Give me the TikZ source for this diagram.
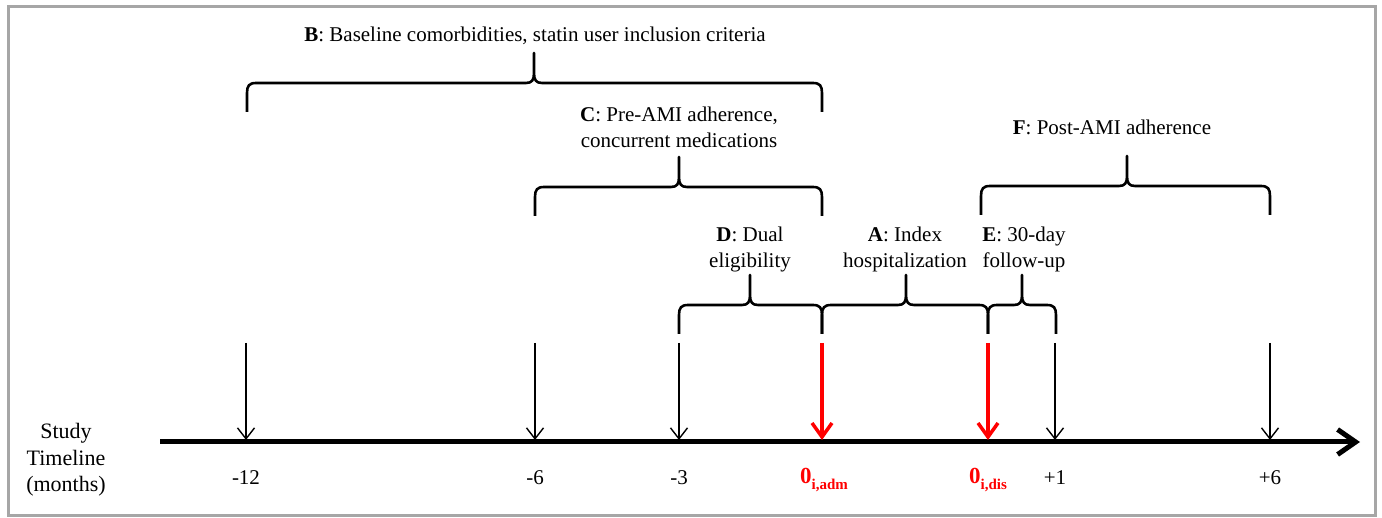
\documentclass[tikz,border=0pt]{standalone}
\usepackage{fontspec}
\setmainfont{Liberation Serif}
\usetikzlibrary{arrows.meta}
\definecolor{framegray}{RGB}{166,166,166}
\definecolor{redmark}{RGB}{255,0,0}
\newcommand\timebrace[4]{%
  \draw[bracestyle] (#1,#4+29) -- (#1,#4+10) .. controls (#1,#4+3) and (#1+2,#4) .. (#1+9,#4)
    -- (#3-8,#4) .. controls (#3-2,#4) and (#3,#4-3) .. (#3,#4-10) -- (#3,#4-30)
    -- (#3,#4-10) .. controls (#3,#4-3) and (#3+2,#4) .. (#3+8,#4)
    -- (#2-9,#4) .. controls (#2-2,#4) and (#2,#4+3) .. (#2,#4+10) -- (#2,#4+29);}
\begin{document}
\begin{tikzpicture}[x=1pt,y=-1pt,
  lbl/.style={font=\fontsize{21}{26}\selectfont, inner sep=0pt, align=center, anchor=base},
  tick/.style={font=\fontsize{21}{26}\selectfont, inner sep=0pt, anchor=base},
  redlbl/.style={text=redmark, inner sep=0pt, anchor=base},
  bracestyle/.style={line width=2.6pt, line join=round},
  vline/.style={line width=1.4pt, -{Straight Barb[length=11pt,width=17pt]}},
  redarrow/.style={draw=redmark, line width=3.5pt, -{Straight Barb[length=14pt,width=20pt]}},
  timeline/.style={line width=5pt, -{Straight Barb[length=18pt,width=25pt]}},
  framebox/.style={draw=framegray, line width=3pt}]
\useasboundingbox (0,0) rectangle (1382,518);
\draw[framebox] (8,7) rectangle (1375,515);

% timeline
\coordinate (tlstart) at (160,442);
\coordinate (tlend) at (1360,442);
\draw[timeline] (tlstart) -- (tlend);

% vertical arrows
\foreach \nm/\xx in {m12/246, m6/535, m3/679, p1/1055, p6/1270}{
  \coordinate (top\nm) at (\xx,343);
  \coordinate (bot\nm) at (\xx,440);
  \draw[vline] (top\nm) -- (bot\nm);
}
\coordinate (topadm) at (822,343);
\coordinate (botadm) at (822,440);
\coordinate (topdis) at (988,343);
\coordinate (botdis) at (988,440);
\draw[redarrow] (topadm) -- (botadm);
\draw[redarrow] (topdis) -- (botdis);

% braces
\timebrace{247}{822}{534}{83}
\timebrace{535}{822}{679}{187}
\timebrace{981}{1270}{1127}{186}
\timebrace{679}{822}{750}{305}
\timebrace{822}{988}{906}{305}
\timebrace{988}{1056}{1022}{305}

% labels (base anchor = baseline of the last line)
\node[lbl] (lblB) at (535,42) {\textbf{B}: Baseline comorbidities, statin user inclusion criteria};
\node[lbl] (lblC) at (679,148) {\textbf{C}: Pre-AMI adherence,\\concurrent medications};
\node[lbl] (lblF) at (1112,135) {\textbf{F}: Post-AMI adherence};
\node[lbl] (lblD) at (750,268) {\textbf{D}: Dual\\eligibility};
\node[lbl] (lblA) at (905,268) {\textbf{A}: Index\\hospitalization};
\node[lbl] (lblE) at (1024,268) {\textbf{E}: 30-day\\follow-up};

\node[font=\fontsize{22}{27}\selectfont, align=center, anchor=base, inner sep=0pt] (study) at (66,492) {Study\\Timeline\\(months)};

% tick labels
\node[tick] (n12) at (246,484) {-12};
\node[tick] (n6) at (535,484) {-6};
\node[tick] (n3) at (679,484) {-3};
\node[tick] (np1) at (1055,484) {+1};
\node[tick] (np6) at (1270,484) {+6};
\node[redlbl] (ladm) at (824,483) {{\fontsize{23}{26}\selectfont\bfseries 0}{\fontsize{15}{18}\selectfont\bfseries\raisebox{-6pt}{i,adm}}};
\node[redlbl] (ldis) at (988,483) {{\fontsize{23}{26}\selectfont\bfseries 0}{\fontsize{15}{18}\selectfont\bfseries\raisebox{-6pt}{i,dis}}};
\end{tikzpicture}
\end{document}
